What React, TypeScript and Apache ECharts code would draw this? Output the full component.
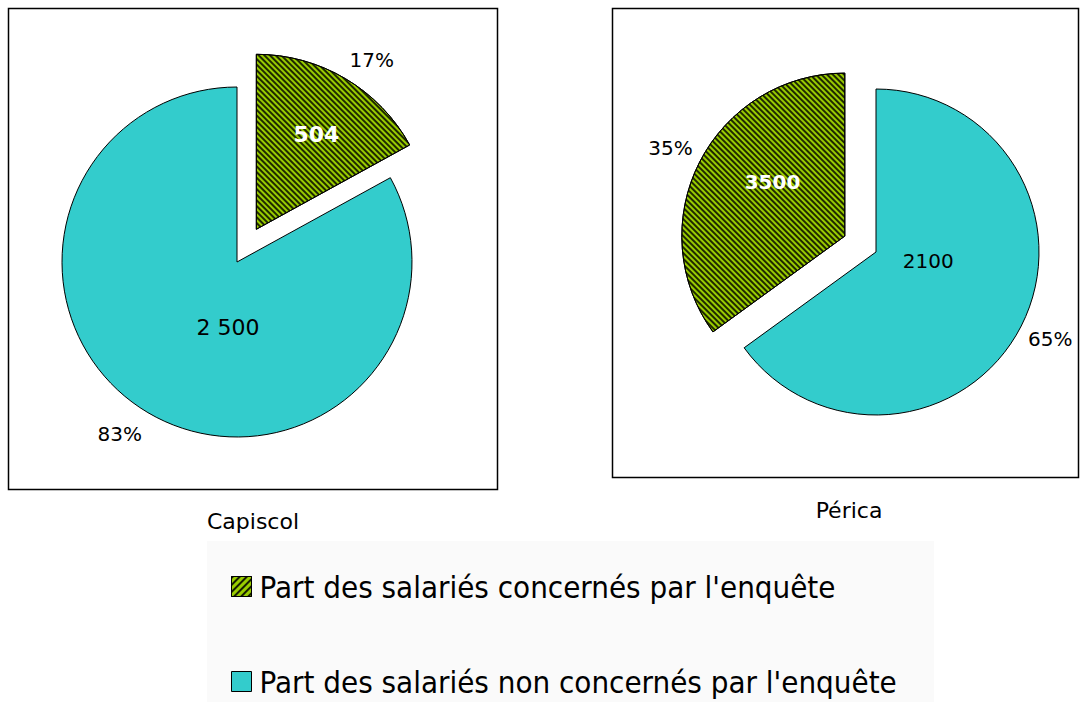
import React, { useEffect, useRef } from "react";
import * as echarts from "echarts";

const categories = [
  "Part des salariés concernés par l'enquête",
  "Part des salariés non concernés par l'enquête",
];
const chartTitles = ["Capiscol", "Périca"];

// Capiscol: concerned first (starts at 12 o'clock), then non concerned
const capiscolNames = [categories[0], categories[1]];
const capiscolPercent = [17, 83];
const capiscolCounts = ["504", "2 500"];

// Périca: non concerned first (starts at 12 o'clock), then concerned
const pericaNames = [categories[1], categories[0]];
const pericaPercent = [65, 35];
const pericaCounts = ["2100", "3500"];

const GREEN = "#99CC00";
const CYAN = "#33CCCC";
const FONT = "'DejaVu Sans', Verdana, sans-serif";
const LEGEND_FONT = "'Liberation Sans Narrow', 'DejaVu Sans Condensed', sans-serif";

const hatch = {
  symbol: "rect",
  symbolSize: 1,
  dashArrayX: [1, 0],
  dashArrayY: [1.3, 1.7],
  rotation: Math.PI / 4,
  color: "rgba(0,0,0,0.8)",
};

const legendHatch = {
  symbol: "rect",
  symbolSize: 1,
  dashArrayX: [1, 0],
  dashArrayY: [1.5, 2.5],
  rotation: -Math.PI / 4,
  color: "rgba(0,0,0,0.85)",
};

function styleFor(name: string) {
  if (name === categories[0]) {
    return { color: GREEN, borderColor: "#000", borderWidth: 1, decal: hatch };
  }
  return { color: CYAN, borderColor: "#000", borderWidth: 1 };
}

function countLabelFor(name: string, big: boolean) {
  if (name === categories[0]) {
    return { color: "#fff", fontWeight: "bold", fontSize: big ? 22 : 20 };
  }
  return { color: "#000", fontWeight: "normal", fontSize: big ? 22 : 20 };
}

export default function App() {
  const ref = useRef<HTMLDivElement>(null);
  useEffect(() => {
    if (!ref.current) return;
    const chart = echarts.init(ref.current, undefined, { renderer: "svg" });

    const makeVisible = (
      names: string[],
      values: number[],
      counts: string[],
      center: number[],
      radius: number,
      offset: number,
      labelOffsets: number[][],
      big: boolean
    ) => ({
      type: "pie",
      center,
      radius: [0, radius],
      startAngle: 90,
      clockwise: true,
      selectedMode: "single",
      selectedOffset: offset,
      avoidLabelOverlap: false,
      silent: true,
      emphasis: { disabled: true },
      labelLine: { show: false },
      data: names.map((n, i) => ({
        name: n,
        value: values[i],
        selected: n === categories[0],
        itemStyle: styleFor(n),
        label: {
          show: true,
          position: "inside",
          formatter: () => counts[i],
          fontFamily: FONT,
          offset: labelOffsets[i],
          ...countLabelFor(n, big),
        },
        select: { itemStyle: styleFor(n), label: { offset: labelOffsets[i] } },
      })),
    });

    const makeGhost = (
      names: string[],
      values: number[],
      center: number[],
      radius: number,
      offset: number,
      labelOffsets: number[][]
    ) => ({
      type: "pie",
      center,
      radius: [0, radius],
      startAngle: 90,
      clockwise: true,
      selectedMode: "single",
      selectedOffset: offset,
      avoidLabelOverlap: false,
      silent: true,
      emphasis: { disabled: true },
      itemStyle: { color: "rgba(0,0,0,0)", borderWidth: 0 },
      labelLine: { show: false, length: 2, length2: 0 },
      data: names.map((n, i) => ({
        name: n,
        value: values[i],
        selected: n === categories[0],
        label: {
          show: true,
          position: "outside",
          formatter: "{c}%",
          color: "#000",
          fontSize: 20,
          fontFamily: FONT,
          offset: labelOffsets[i],
        },
        select: {
          itemStyle: { color: "rgba(0,0,0,0)", borderWidth: 0 },
          label: { offset: labelOffsets[i] },
        },
      })),
    });

    const legendFor = (name: string, top: number, decal: any) => ({
      orient: "vertical",
      left: 231,
      top,
      padding: 0,
      itemWidth: 20,
      itemHeight: 20,
      selectedMode: false,
      icon: "rect",
      data: [
        decal
          ? { name, itemStyle: { decal } }
          : { name },
      ],
      itemStyle: { borderColor: "#000", borderWidth: 1 },
      textStyle: {
        fontFamily: LEGEND_FONT,
        fontSize: 31,
        color: "#000",
        padding: [0, 0, 0, 3],
      },
    });

    chart.setOption({
      animation: false,
      backgroundColor: "#fff",
      legend: [
        legendFor(categories[0], 571, legendHatch),
        legendFor(categories[1], 666, null),
      ],
      graphic: [
        {
          type: "rect",
          shape: { x: 207, y: 541, width: 727, height: 170 },
          style: { fill: "#fafafa" },
          z: -10,
        },
        {
          type: "rect",
          shape: { x: 8.5, y: 8.5, width: 489, height: 481 },
          style: { fill: "none", stroke: "#000", lineWidth: 1.5 },
        },
        {
          type: "rect",
          shape: { x: 612.5, y: 8.5, width: 466, height: 469 },
          style: { fill: "none", stroke: "#000", lineWidth: 1.5 },
        },
        {
          type: "text",
          x: 253,
          y: 521,
          style: {
            text: chartTitles[0],
            fontSize: 22,
            fontFamily: FONT,
            fill: "#000",
            align: "center",
            verticalAlign: "middle",
          },
        },
        {
          type: "text",
          x: 849,
          y: 510,
          style: {
            text: chartTitles[1],
            fontSize: 22,
            fontFamily: FONT,
            fill: "#000",
            align: "center",
            verticalAlign: "middle",
          },
        },
      ],
      series: [
        makeVisible(capiscolNames, capiscolPercent, capiscolCounts, [237, 262], 175, 38, [[14, -17], [37, -12]], true),
        makeVisible(pericaNames, pericaPercent, pericaCounts, [876, 252], 163, 35, [[-23, -29], [3, -16]], false),
        makeGhost(capiscolNames, capiscolPercent, [237, 262], 175, 38, [[-2, -17], [0, 20]]),
        makeGhost(pericaNames, pericaPercent, [876, 252], 163, 35, [[0, 12], [0, -13]]),
      ],
    });
    return () => chart.dispose();
  }, []);
  return (
    <div
      ref={ref}
      style={{ position: "absolute", left: 0, top: 0, width: 1083, height: 702 }}
    />
  );
}
